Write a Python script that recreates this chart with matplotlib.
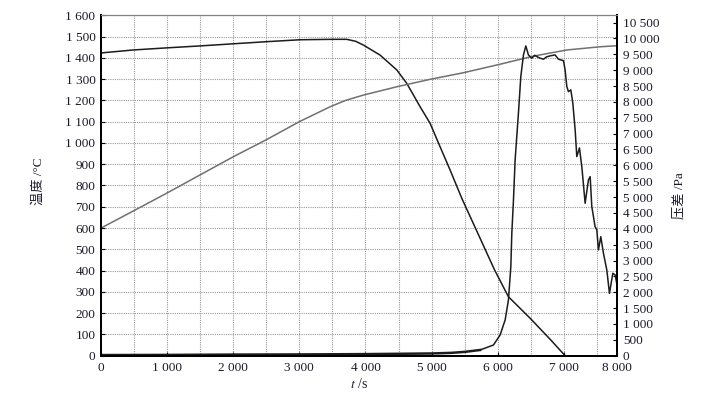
import numpy as np
import matplotlib
matplotlib.use("Agg")
import matplotlib.pyplot as plt
from matplotlib.ticker import FuncFormatter, MultipleLocator

plt.rcParams['font.family'] = ['Liberation Serif', 'Noto Sans CJK SC']
plt.rcParams['mathtext.fontset'] = 'stix'

# black temperature curve (left axis)
t1 = [0, 489, 1000, 1498, 2000, 2507, 3011, 3500, 3717, 3850, 3969, 4221, 4474,
      4625, 4827, 4978, 5129, 5280, 5457, 5734, 5950, 6163, 6491, 6800, 7020]
temp1 = [1423, 1437, 1447, 1456, 1466, 1476, 1485, 1487, 1487, 1478, 1460, 1413, 1343,
         1280, 1170, 1092, 982, 873, 740, 552, 405, 277, 176, 75, 0]

# gray temperature curve (left axis)
t2 = [0, 500, 1000, 1500, 2000, 2500, 3000, 3465, 3700, 3969, 4474, 4978, 5482,
      6037, 6541, 7046, 7550, 7810]
temp2 = [600, 682, 765, 850, 935, 1015, 1100, 1170, 1200, 1225, 1264, 1299, 1330,
         1370, 1408, 1437, 1452, 1457]

# pressure difference (right axis)
tp = [0, 1000, 2000, 3000, 4000, 4500, 5000, 5300, 5500, 5734, 5936, 6037, 6113,
      6163, 6199, 6214, 6239, 6264, 6314, 6350, 6390, 6426, 6465, 6516, 6560, 6592,
      6640, 6692, 6740, 6793, 6869, 6919, 6995, 7020, 7046, 7070, 7107, 7137, 7172,
      7197, 7237, 7273, 7323, 7373, 7399, 7424, 7474, 7500, 7524, 7560, 7600, 7651,
      7691, 7742, 7777, 7810]
dp = [20, 25, 35, 40, 50, 60, 70, 90, 120, 180, 337, 653, 1126,
      1756, 2806, 3859, 4909, 6170, 7643, 8797, 9481, 9765, 9481, 9377, 9470, 9428,
      9380, 9345, 9420, 9450, 9481, 9345, 9301, 9008, 8482, 8324, 8378, 7958, 7116,
      6275, 6550, 5959, 4805, 5540, 5644, 4698, 4067, 3963, 3333, 3752, 3229, 2702,
      1967, 2598, 2545, 2176]

xticks = [0, 1000, 2000, 3000, 4000, 5000, 6000, 7000, 7810]
xlabels = ["0", "1 000", "2 000", "3 000", "4 000", "5 000", "6 000", "7 000", "8 000"]

txt = '#1a1a2a'


def spaced(v, pos):
    return f"{int(round(v)):,}".replace(",", " ")


fig = plt.figure(figsize=(7.14, 3.95), dpi=100)
ax = fig.add_axes([0.1415, 0.0995, 0.7231, 0.8618])
ax2 = ax.twinx()

ax.plot(t1, temp1, color='#1c1c1c', lw=1.1)
ax.plot(t2, temp2, color='#707070', lw=1.1)
# noisy near-zero baseline looks thicker in the original
ax2.plot(tp[:10], dp[:10], color='#1c1c1c', lw=1.8)
ax2.plot(tp[9:], dp[9:], color='#1c1c1c', lw=1.1)

ax.set_xlim(0, 7810)
ax.set_ylim(0, 1600)
ax2.set_ylim(0, 10730)

ax.set_xticks(xticks)
ax.set_xticklabels(xlabels)
ax.xaxis.set_minor_locator(MultipleLocator(500))
ax.yaxis.set_major_locator(MultipleLocator(100))
ax.yaxis.set_major_formatter(FuncFormatter(spaced))
ax2.set_yticks(np.arange(0, 10501, 500))
ax2.yaxis.set_major_formatter(FuncFormatter(spaced))

ax.grid(True, which='both', axis='x', color='#9a9a9a', lw=0.8, linestyle=(0, (1, 1)))
ax.grid(True, which='major', axis='y', color='#9a9a9a', lw=0.8, linestyle=(0, (1, 1)))

ax.tick_params(axis='both', which='major', direction='in', length=3, width=0.8,
               labelsize=9.5, labelcolor=txt, pad=4)
ax.tick_params(axis='x', which='minor', length=0)
ax.tick_params(axis='x', pad=4.5)
ax2.tick_params(axis='y', direction='in', length=3, width=0.8,
                labelsize=9.5, labelcolor=txt, pad=4)

for a in (ax, ax2):
    a.spines['left'].set_linewidth(1.4)
    a.spines['bottom'].set_linewidth(1.4)
    a.spines['right'].set_linewidth(1.4)
    a.spines['top'].set_linewidth(0.8)
    a.spines['top'].set_color('#808080')

ax.set_ylabel("温度 /°C", fontsize=9.5, color=txt)
ax.yaxis.set_label_coords(-0.1085, 0.512)
ax2.set_ylabel("压差 /Pa", fontsize=9.5, color=txt)
ax2.yaxis.set_label_coords(1.108, 0.47)
ax.set_xlabel("$t$ /s", fontsize=10, color=txt, labelpad=2)

fig.savefig("out.png", dpi=100)
